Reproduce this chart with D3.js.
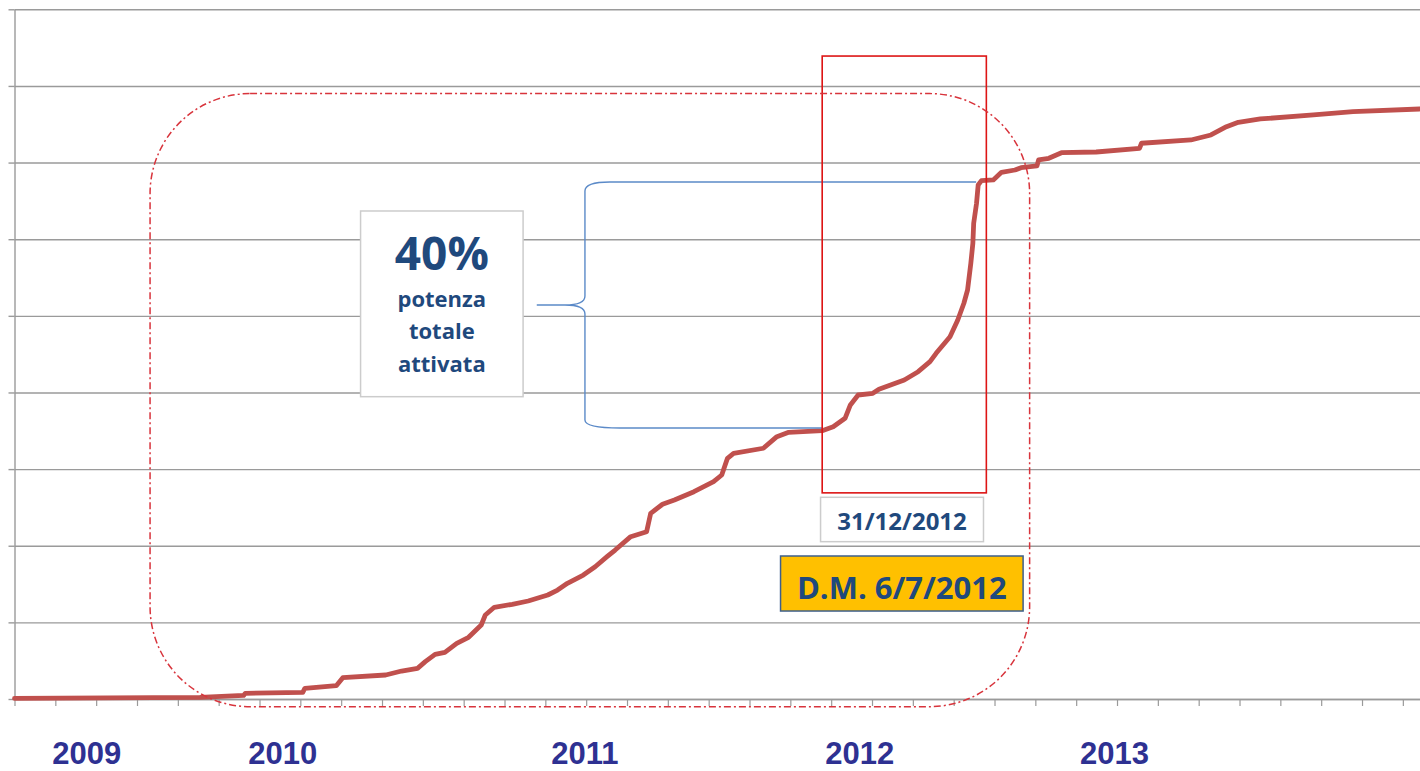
<!DOCTYPE html>
<html>
<head>
<meta charset="utf-8">
<script src="https://cdn.jsdelivr.net/npm/d3@7/dist/d3.min.js"></script>
<style>
  body { margin:0; background:#fff; }
  svg { display:block; }
</style>
</head>
<body>
<svg id="chart" width="1420" height="771"></svg>
<script>
// x = months from the start of the series (one tick per month), y = MW
var months = [0, 4.54, 5.61, 5.65, 7.06, 7.11, 7.88, 8.04, 9.09, 9.48, 9.87, 10.06, 10.30, 10.54,
  10.83, 11.12, 11.43, 11.53, 11.75, 12.19, 12.58, 13.06, 13.30, 13.54, 13.93, 14.22, 14.51,
  14.71, 15.09, 15.48, 15.58, 15.87, 16.16, 16.64, 17.12, 17.32, 17.46, 17.61, 18.34, 18.67,
  18.96, 19.78, 20.05, 20.34, 20.47, 20.66, 21.02, 21.17, 21.79, 22.13, 22.42, 22.57, 22.91,
  23.10, 23.25, 23.34, 23.42, 23.47, 23.49, 23.56, 23.60, 23.68, 23.97, 24.17, 24.50, 24.65,
  25.04, 25.08, 25.33, 25.64, 26.49, 27.55, 27.60, 28.81, 29.30, 29.68, 29.97, 30.51, 31.81,
  32.78, 34.41];
var power = [0.7, 2.0, 4.6, 7.4, 8.7, 14.0, 17.4, 27.8, 31.3, 36.5, 40.0, 48.7, 58.3, 60.9,
  72.7, 80.5, 96.6, 109.6, 119.7, 123.6, 127.9, 135.7, 142.2, 151.0, 161.8, 172.6, 185.7,
  194.4, 211.8, 218.3, 242.3, 254.1, 259.7, 270.5, 283.6, 292.3, 314.1, 320.6, 327.2, 342.3,
  348.0, 350.1, 355.3, 366.3, 383.7, 396.7, 398.9, 404.1, 416.3, 427.1, 440.2, 451.1, 472.8,
  494.6, 516.4, 533.7, 568.6, 594.7, 620.8, 646.9, 670.8, 676.4, 677.3, 687.3, 690.3, 693.3,
  695.6, 703.4, 705.6, 712.9, 713.8, 718.6, 725.2, 729.5, 736.0, 746.8, 752.6, 756.9, 762.1,
  766.4, 769.9];

var yTicks = [0, 100, 200, 300, 400, 500, 600, 700, 800, 900];
var monthTicks = d3.range(0, 35);

var yearNames = ["2009", "2010", "2011", "2012", "2013"];
var yearPos = [1.77, 6.57, 13.97, 20.70, 26.94];

// annotations, in data units
var frame = {x0: 3.32, x1: 24.86, y0: 790, y1: -10};
var highlight = {x0: 19.78, x1: 23.80, y0: 839, y1: 269};
var brace = {x: 13.97, tip: 12.79, top: 674.7, bottom: 353.6, topEnd: 23.55, bottomEnd: 19.78};
var pctBox = {x0: 8.475, x1: 12.455, y0: 636.8, y1: 394.5};
var dateBox = {x0: 19.74, x1: 23.73, y0: 263.2, y1: 205.3};
var dmBox = {x0: 18.76, x1: 24.70, y0: 186.6, y1: 114.8};

var svg = d3.select("#chart");
var W = 1420, plotLeft = 14.5, plotTop = 9.3, plotBottom = 699;

var x = d3.scaleLinear().domain([0, 34.42]).range([plotLeft, W]);
var y = d3.scaleLinear().domain([0, 900]).range([plotBottom, plotTop]);

var grey = "#9a9a9a";
var blueText = "#1f497d";

// gridlines
svg.append("g")
  .attr("transform", "translate(" + plotLeft + ",0)")
  .call(d3.axisLeft(y).tickValues(yTicks).tickSize(-(W - plotLeft)).tickFormat(""))
  .call(function(g){
    g.select(".domain").remove();
    g.selectAll("line").attr("stroke", grey).attr("stroke-width", 1.4);
  });

// y axis with small ticks
svg.append("g")
  .attr("transform", "translate(" + plotLeft + ",0)")
  .call(d3.axisLeft(y).tickValues(yTicks).tickSize(6).tickSizeOuter(0).tickFormat(""))
  .call(function(g){
    g.select(".domain").attr("stroke", grey).attr("stroke-width", 1.4);
    g.selectAll("line").attr("stroke", grey).attr("stroke-width", 1.4);
  });

// x axis with monthly ticks
svg.append("g")
  .attr("transform", "translate(0," + plotBottom + ")")
  .call(d3.axisBottom(x).tickValues(monthTicks).tickSize(7).tickSizeOuter(0).tickFormat(""))
  .call(function(g){
    g.select(".domain").attr("stroke", grey).attr("stroke-width", 1.4);
    g.selectAll("line").attr("stroke", grey).attr("stroke-width", 1.2);
  });

// cumulative power line
var line = d3.line()
  .x(function(d, i){ return x(months[i]); })
  .y(function(d){ return y(d); });

svg.append("path")
  .datum(power)
  .attr("d", line)
  .attr("fill", "none")
  .attr("stroke", "#c0504d")
  .attr("stroke-width", 4.8)
  .attr("stroke-linejoin", "round")
  .attr("stroke-linecap", "round");

// brace
var bx = x(brace.x), tx = x(brace.tip), yt = y(brace.top), yb = y(brace.bottom);
var ym = (yt + yb) / 2;
var bp = d3.path();
bp.moveTo(x(brace.topEnd), yt);
bp.lineTo(bx + 25, yt);
bp.quadraticCurveTo(bx, yt, bx, yt + 9);
bp.lineTo(bx, ym - 9);
bp.quadraticCurveTo(bx, ym, bx - 20, ym);
bp.lineTo(tx, ym);
bp.moveTo(bx - 20, ym);
bp.quadraticCurveTo(bx, ym, bx, ym + 9);
bp.lineTo(bx, yb - 8);
bp.quadraticCurveTo(bx, yb, bx + 35, yb);
bp.lineTo(x(brace.bottomEnd), yb);
svg.append("path")
  .attr("d", bp.toString())
  .attr("fill", "none")
  .attr("stroke", "#5b8ac8")
  .attr("stroke-width", 1.4);

// highlighted period
svg.append("rect")
  .attr("x", x(highlight.x0))
  .attr("y", y(highlight.y0))
  .attr("width", x(highlight.x1) - x(highlight.x0))
  .attr("height", y(highlight.y1) - y(highlight.y0))
  .attr("fill", "none")
  .attr("stroke", "#dd1515")
  .attr("stroke-width", 1.6);

// dash-dot rounded frame
svg.append("rect")
  .attr("x", x(frame.x0))
  .attr("y", y(frame.y0))
  .attr("width", x(frame.x1) - x(frame.x0))
  .attr("height", y(frame.y1) - y(frame.y0))
  .attr("rx", 100).attr("ry", 100)
  .attr("fill", "none")
  .attr("stroke", "#d8343c")
  .attr("stroke-width", 1.5)
  .attr("stroke-dasharray", "7,3,2,3");

function box(b, fill, stroke){
  return svg.append("rect")
    .attr("x", x(b.x0))
    .attr("y", y(b.y0))
    .attr("width", x(b.x1) - x(b.x0))
    .attr("height", y(b.y1) - y(b.y0))
    .attr("fill", fill)
    .attr("stroke", stroke)
    .attr("stroke-width", 1.5);
}
function boxText(b, txt, dy, size){
  return svg.append("text")
    .attr("x", (x(b.x0) + x(b.x1)) / 2)
    .attr("y", y(b.y0) + dy)
    .attr("text-anchor", "middle")
    .attr("font-family", "'Open Sans', 'Noto Sans', sans-serif")
    .attr("font-weight", 700)
    .attr("font-size", size)
    .attr("fill", blueText)
    .text(txt);
}

box(pctBox, "#fff", "#cccccc");
boxText(pctBox, "40%", 59, 46);
boxText(pctBox, "potenza", 96, 22);
boxText(pctBox, "totale", 128, 22);
boxText(pctBox, "attivata", 161, 22);

box(dateBox, "#fff", "#cccccc");
boxText(dateBox, "31/12/2012", 32.5, 24);

box(dmBox, "#ffc000", "#3d5f8c");
boxText(dmBox, "D.M. 6/7/2012", 43, 31);

// year labels
svg.append("g")
  .selectAll("text")
  .data(yearNames)
  .join("text")
  .attr("x", function(d, i){ return x(yearPos[i]); })
  .attr("y", 764)
  .attr("text-anchor", "middle")
  .attr("font-family", "'Liberation Sans', Arial, sans-serif")
  .attr("font-weight", 700)
  .attr("font-size", 31)
  .attr("fill", "#2e3192")
  .text(function(d){ return d; });
</script>
</body>
</html>
